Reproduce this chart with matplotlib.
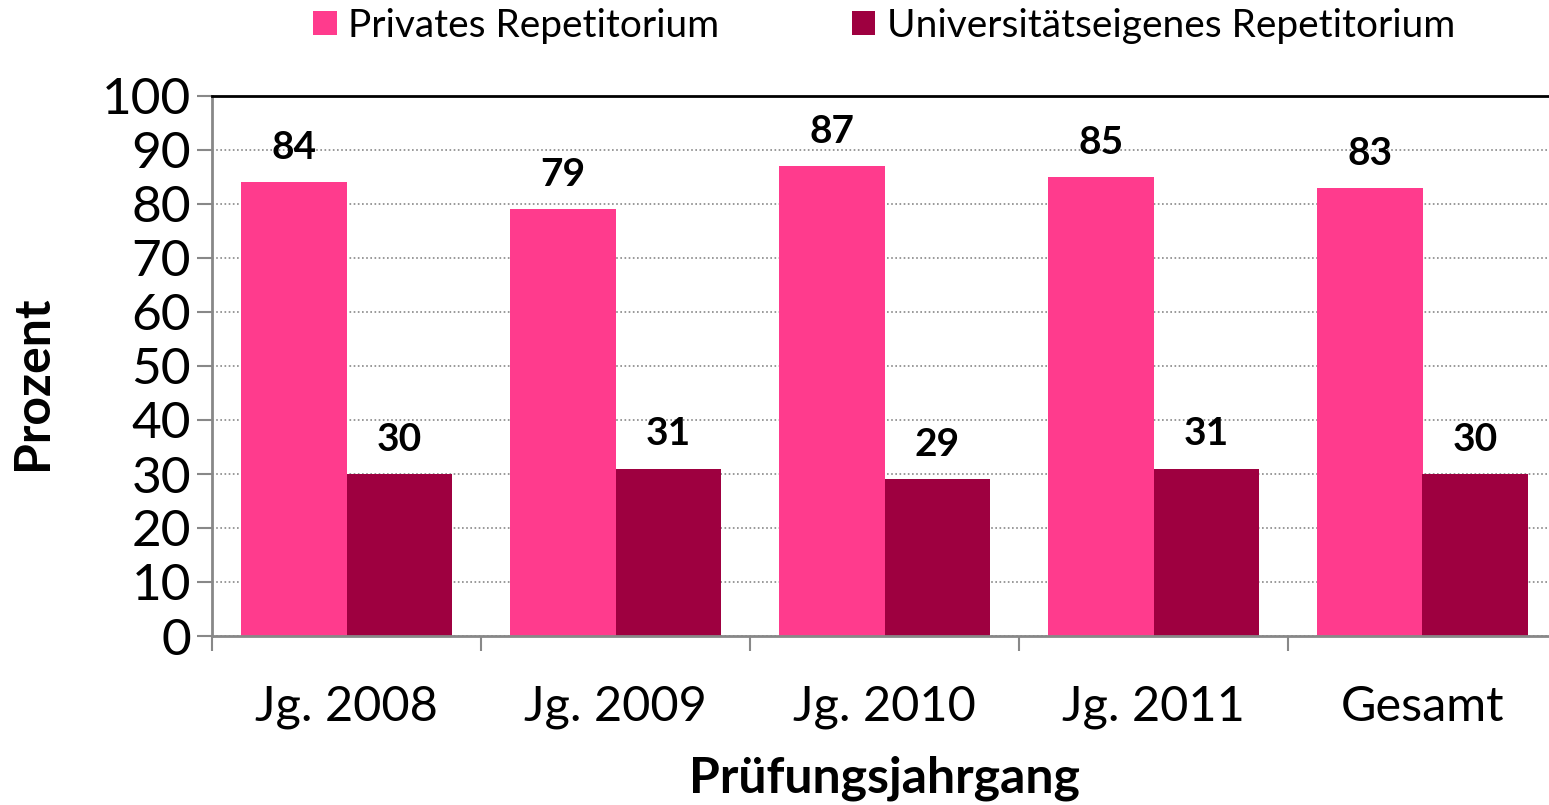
import matplotlib
import matplotlib.pyplot as plt
import numpy as np

matplotlib.use('agg')

plt.rcParams['font.family'] = ['Lato', 'DejaVu Sans']

categories = ['Jg. 2008', 'Jg. 2009', 'Jg. 2010', 'Jg. 2011', 'Gesamt']
privat = [84, 79, 87, 85, 83]
uni = [30, 31, 29, 31, 30]
series_names = ['Privates Repetitorium', 'Universitätseigenes Repetitorium']

PINK = '#FF3B8D'
DARK = '#9E0040'
GREY = '#888888'


def main():
    fig = plt.figure(figsize=(15.49, 8.05), dpi=100)
    ax = fig.add_axes([212 / 1549, 169 / 805, 1345 / 1549, 540 / 805])

    x = np.arange(len(categories))
    w = 0.392
    b1 = ax.bar(x - w / 2, privat, w, color=PINK, label=series_names[0], zorder=2)
    b2 = ax.bar(x + w / 2, uni, w, color=DARK, label=series_names[1], zorder=2)

    for bars, vals in ((b1, privat), (b2, uni)):
        for rect, v in zip(bars, vals):
            ax.annotate(str(v), (rect.get_x() + rect.get_width() / 2, v),
                        xytext=(0, 25), textcoords='offset points',
                        ha='center', va='center', fontsize=28, fontweight='bold')

    ax.set_xlim(-0.5, len(categories) - 0.5)
    ax.set_ylim(0, 100)
    ax.set_yticks(range(0, 101, 10))
    ax.yaxis.grid(True, linestyle=(0, (1, 1.5)), color=GREY, linewidth=1.2, zorder=0)
    ax.set_axisbelow(True)

    ax.set_xticks(x)
    ax.set_xticklabels(categories)
    ax.set_xticks(np.arange(len(categories) + 1) - 0.5, minor=True)
    ax.tick_params(axis='x', which='major', length=0, pad=35, labelsize=35)
    ax.tick_params(axis='x', which='minor', length=11, width=1.5, color=GREY, direction='out')
    ax.tick_params(axis='y', length=11, width=1.5, color=GREY, labelsize=37, pad=4)

    for side in ('left', 'bottom'):
        ax.spines[side].set_color(GREY)
        ax.spines[side].set_linewidth(2)
    ax.spines['top'].set_color('black')
    ax.spines['top'].set_linewidth(2)
    ax.spines['right'].set_visible(False)

    fig.text(33 / 1549, 1 - 383 / 805, 'Prozent', rotation=90, ha='center', va='center',
             fontsize=36, fontweight='bold')
    fig.text(884 / 1549, 1 - 778 / 805, 'Prüfungsjahrgang', ha='center', va='center',
             fontsize=36, fontweight='bold')

    fig.legend(loc='upper center', bbox_to_anchor=(884 / 1549, 1.034), ncol=2,
               frameon=False, fontsize=28, handlelength=0.6, handleheight=0.6,
               handletextpad=0.3, columnspacing=3.4)

    fig.savefig('out.png', dpi=100)
    plt.close(fig)


if __name__ == '__main__':
    main()
